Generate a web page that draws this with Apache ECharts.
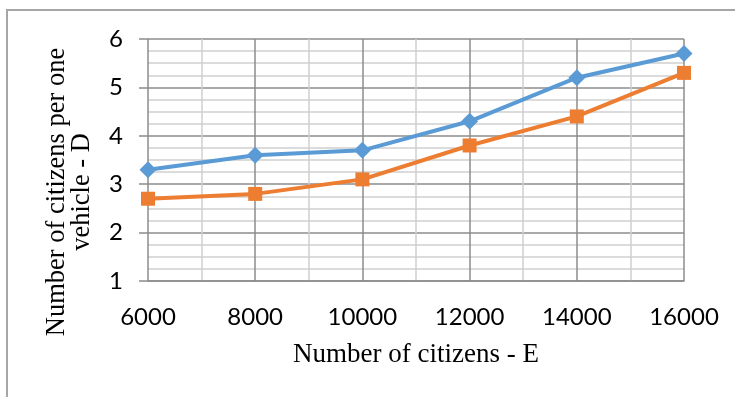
<!DOCTYPE html>
<html>
<head>
<meta charset="utf-8">
<script src="https://cdn.jsdelivr.net/npm/echarts@6/dist/echarts.min.js"></script>
<style>html,body{margin:0;padding:0;background:#fff}#c{width:735px;height:397px}</style>
</head>
<body>
<div id="c"></div>
<script>
const xValues = [6000, 8000, 10000, 12000, 14000, 16000];
const seriesD1 = [3.3, 3.6, 3.7, 4.3, 5.2, 5.7];
const seriesD2 = [2.7, 2.8, 3.1, 3.8, 4.4, 5.3];
const xTitle = 'Number of citizens - E';
const yTitleLines = ['Number of citizens per one', 'vehicle - D'];

const chart = echarts.init(document.getElementById('c'), null, {renderer: 'canvas'});
const pair = (vals) => xValues.map((x, i) => [x, vals[i]]);
chart.setOption({
  animation: false,
  backgroundColor: '#fff',
  grid: {left: 148, right: 51, top: 39, bottom: 116, containLabel: false},
  xAxis: {
    type: 'value', min: 6000, max: 16000, interval: 2000,
    name: xTitle, nameLocation: 'middle', nameGap: 60,
    nameTextStyle: {fontFamily: 'Liberation Serif', fontSize: 27, color: '#000'},
    axisLine: {show: true, lineStyle: {color: '#8c8c8c', width: 1.5}},
    axisTick: {show: false},
    axisLabel: {margin: 24, fontFamily: 'Lato', fontSize: 24, color: '#000', formatter: (v) => String(v)},
    splitLine: {show: true, lineStyle: {color: '#8c8c8c', width: 1.5}},
    minorTick: {show: false, splitNumber: 2},
    minorSplitLine: {show: true, lineStyle: {color: '#d0d0d0', width: 1.5}}
  },
  yAxis: {
    type: 'value', min: 1, max: 6, interval: 1,
    axisLine: {show: false},
    axisTick: {show: true, length: 9, inside: false, lineStyle: {color: '#8c8c8c', width: 1.5}},
    axisLabel: {margin: 25, fontFamily: 'Lato', fontSize: 24, color: '#000'},
    splitLine: {show: true, lineStyle: {color: '#8c8c8c', width: 1.5}},
    minorTick: {show: false, splitNumber: 4},
    minorSplitLine: {show: true, lineStyle: {color: '#d0d0d0', width: 1.5}}
  },
  series: [
    {type: 'line', data: pair(seriesD1), symbol: 'diamond', symbolSize: 17,
     lineStyle: {color: '#5B9BD5', width: 4}, itemStyle: {color: '#5B9BD5'}, z: 3},
    {type: 'line', data: pair(seriesD2), symbol: 'rect', symbolSize: 14,
     lineStyle: {color: '#ED7D31', width: 4}, itemStyle: {color: '#ED7D31'}, z: 3}
  ],
  graphic: [
    {type: 'rect', shape: {x: 7, y: 10, width: 900, height: 600}, style: {fill: 'none', stroke: '#a6a6a6', lineWidth: 2}, silent: true},
    {type: 'text', x: 57, y: 192, rotation: Math.PI / 2,
     style: {text: yTitleLines[0], font: '26.5px "Liberation Serif"', fill: '#000', align: 'center', verticalAlign: 'middle'}},
    {type: 'text', x: 82, y: 192, rotation: Math.PI / 2,
     style: {text: yTitleLines[1], font: '26.5px "Liberation Serif"', fill: '#000', align: 'center', verticalAlign: 'middle'}}
  ]
});
</script>
</body>
</html>
